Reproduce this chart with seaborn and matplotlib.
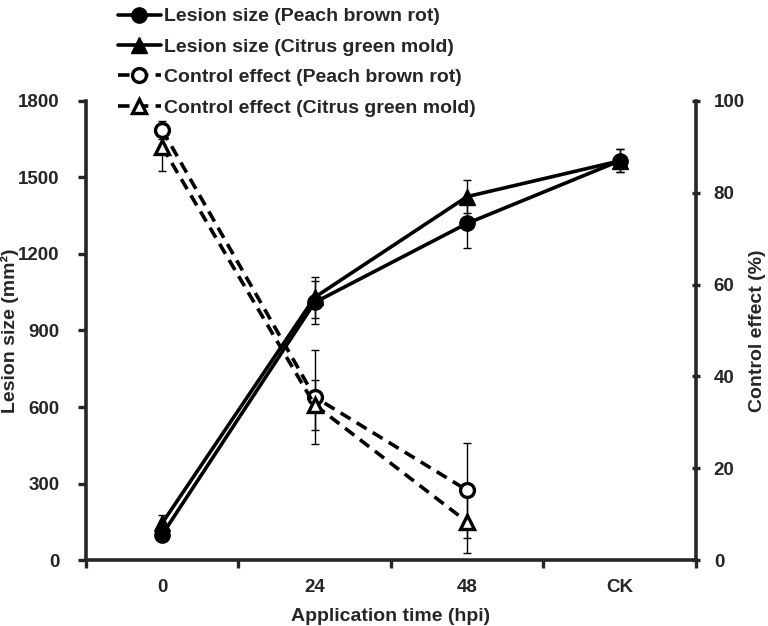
import numpy as np
import pandas as pd
import matplotlib
matplotlib.use("Agg")
import matplotlib.pyplot as plt
import seaborn as sns
from matplotlib.ticker import FixedLocator

# Data
categories = ["0", "24", "48", "CK"]
lesion_peach = [100, 1010, 1320, 1565]
lesion_peach_err = [20, 85, 95, 45]
lesion_citrus = [145, 1030, 1425, 1565]
lesion_citrus_err = [30, 80, 65, 45]
control_peach = [93.7, 35.5, 15.2]
control_peach_err = [2.0, 10.2, 10.3]
control_citrus = [90.0, 33.8, 8.3]
control_citrus_err = [5.2, 5.4, 6.7]

left_ticks = [0, 300, 600, 900, 1200, 1500, 1800]
right_ticks = [0, 20, 40, 60, 80, 100]

sns.set_style("ticks")
plt.rcParams["font.family"] = ["Liberation Sans", "DejaVu Sans"]
plt.rcParams["font.weight"] = "bold"

x_all = np.arange(len(categories))
x_ctrl = x_all[:len(control_peach)]

fig = plt.figure(figsize=(7.68, 6.26), dpi=100)
ax = fig.add_axes([0.112, 0.1054, 0.794, 0.7333])
ax2 = ax.twinx()

lw = 2.6
ms = 11
fs = 14

# error bars first so markers sit on top
ax.errorbar(x_all, lesion_peach, yerr=lesion_peach_err, fmt="none",
            ecolor="black", elinewidth=1, capsize=3, capthick=1, zorder=1)
ax.errorbar(x_all, lesion_citrus, yerr=lesion_citrus_err, fmt="none",
            ecolor="black", elinewidth=1, capsize=3, capthick=1, zorder=1)
ax2.errorbar(x_ctrl, control_peach, yerr=control_peach_err, fmt="none",
             ecolor="black", elinewidth=1, capsize=3, capthick=1, zorder=1)
ax2.errorbar(x_ctrl, control_citrus, yerr=control_citrus_err, fmt="none",
             ecolor="black", elinewidth=1, capsize=3, capthick=1, zorder=1)

df_lp = pd.DataFrame({"x": x_all, "y": lesion_peach})
df_lc = pd.DataFrame({"x": x_all, "y": lesion_citrus})
df_cp = pd.DataFrame({"x": x_ctrl, "y": control_peach})
df_cc = pd.DataFrame({"x": x_ctrl, "y": control_citrus})

sns.lineplot(data=df_lp, x="x", y="y", ax=ax, color="black", lw=lw,
             marker="o", markersize=ms, markerfacecolor="black",
             markeredgecolor="black", markeredgewidth=1, zorder=3,
             label="Lesion size (Peach brown rot)", legend=False)
sns.lineplot(data=df_lc, x="x", y="y", ax=ax, color="black", lw=lw,
             marker="^", markersize=ms, markerfacecolor="black",
             markeredgecolor="black", markeredgewidth=1, zorder=3,
             label="Lesion size (Citrus green mold)", legend=False)
sns.lineplot(data=df_cp, x="x", y="y", ax=ax2, color="black", lw=lw,
             linestyle=(0, (3.2, 2.0)), marker="o", markersize=ms - 1,
             markerfacecolor="white", markeredgecolor="black",
             markeredgewidth=2.4, zorder=3,
             label="Control effect (Peach brown rot)", legend=False)
sns.lineplot(data=df_cc, x="x", y="y", ax=ax2, color="black", lw=lw,
             linestyle=(0, (3.2, 2.0)), marker="^", markersize=ms - 1,
             markerfacecolor="white", markeredgecolor="black",
             markeredgewidth=2.4, zorder=3,
             label="Control effect (Citrus green mold)", legend=False)

# axes limits and ticks
ax.set_xlim(-0.5, len(categories) - 0.5)
ax.set_ylim(0, 1800)
ax2.set_ylim(0, 100)
ax.set_yticks(left_ticks)
ax2.set_yticks(right_ticks)
ax.set_xticks(x_all)
ax.set_xticklabels(categories)
ax.xaxis.set_minor_locator(FixedLocator(np.arange(-0.5, len(categories), 1.0)))
ax.tick_params(axis="x", which="major", length=0, pad=14, labelsize=fs - 0.5)
ax.tick_params(axis="x", which="minor", length=6, width=2.4, direction="out")
ax.tick_params(axis="y", length=6, width=2.4, pad=13, labelsize=fs - 0.5)
ax2.tick_params(axis="y", length=6, width=2.4, pad=10, labelsize=fs - 0.5,
                direction="inout")

for a in (ax, ax2):
    for s in a.spines.values():
        s.set_linewidth(2.6)
    a.spines["top"].set_visible(False)
ax.spines["right"].set_visible(False)
ax2.spines["left"].set_visible(False)
ax2.spines["bottom"].set_visible(False)

ax.set_xlabel("Application time (hpi)", fontsize=fs, fontweight="bold")
ax.xaxis.set_label_coords(0.5, -0.105)
ax.set_ylabel("Lesion size (mm²)", fontsize=fs, fontweight="bold")
ax.yaxis.set_label_coords(-0.11, 0.5)
ax2.set_ylabel("Control effect (%)", fontsize=fs, fontweight="bold", rotation=90)
ax2.yaxis.set_label_coords(1.087, 0.5)

h1, l1 = ax.get_legend_handles_labels()
h2, l2 = ax2.get_legend_handles_labels()
leg = fig.legend(h1 + h2, l1 + l2, loc="upper left",
                 bbox_to_anchor=(0.143, 1.0), frameon=False,
                 fontsize=fs, handlelength=2.25, handletextpad=0.15,
                 labelspacing=0.66, borderaxespad=0)
for t in leg.get_texts():
    t.set_fontweight("bold")

fig.savefig("out.png", dpi=100)
